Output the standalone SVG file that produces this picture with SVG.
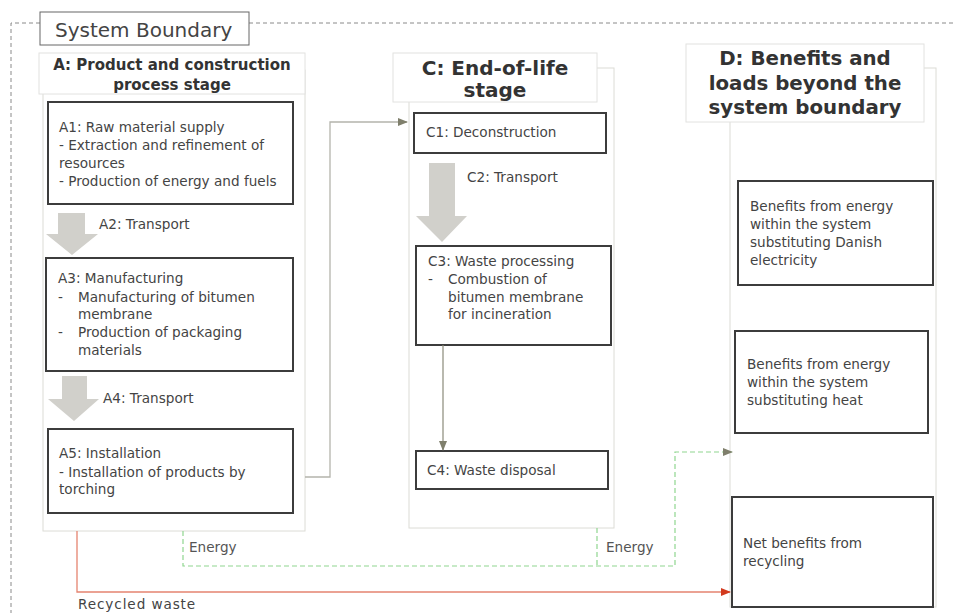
<svg xmlns="http://www.w3.org/2000/svg" width="953" height="613" viewBox="0 0 953 613">
<defs>
<marker id="ah" markerWidth="10" markerHeight="8" refX="9" refY="4" orient="auto" markerUnits="userSpaceOnUse">
<path d="M0,0 L10,4 L0,8 Z" fill="#7f7f6c"/>
</marker>
<marker id="ahr" markerWidth="10" markerHeight="8" refX="9" refY="4" orient="auto" markerUnits="userSpaceOnUse">
<path d="M0,0 L10,4 L0,8 Z" fill="#d23a1e"/>
</marker>
</defs>
<style>
text{font-family:"DejaVu Sans",Verdana,sans-serif;fill:#444}
.t{font-size:13.6px}
.s{font-size:13.6px}
.h{font-weight:bold;fill:#333;text-anchor:middle}
.box{fill:#fff;stroke:#3c3c3c;stroke-width:2}
.hdr{fill:#fff;stroke:#e2e2e0;stroke-width:1}
.col{fill:#fff;stroke:#dcdcd6;stroke-width:1}
.blk{fill:#d1d0cb}
.bnd{fill:none;stroke:#8a8a8a;stroke-width:1;stroke-dasharray:4,3}
.en{fill:none;stroke:#8fd68f;stroke-width:1.2;stroke-dasharray:5,3}
</style>
<rect width="953" height="613" fill="#fff"/>

<g id="boundary">
<path class="bnd" d="M953,23 H249 M40,23 H11 V613"/>
<rect x="40" y="12" width="209" height="33" fill="#fff" stroke="#666" stroke-width="1"/>
<text x="55" y="37" style="font-size:20px">System Boundary</text>
</g>

<g id="stageA">
<rect class="col" x="43" y="70" width="262" height="461"/>
<rect class="hdr" x="39" y="53" width="266" height="41"/>
<text class="h" x="172" y="70" style="font-size:15px">A: Product and construction</text>
<text class="h" x="172" y="90" style="font-size:15px">process stage</text>
</g>

<g id="stageC">
<rect class="col" x="409" y="68" width="205" height="460"/>
<rect class="hdr" x="393" y="53" width="204" height="49"/>
<text class="h" x="495" y="75" style="font-size:20px">C: End-of-life</text>
<text class="h" x="495" y="97" style="font-size:20px">stage</text>
</g>

<g id="stageD">
<rect class="col" x="730" y="68" width="206" height="539"/>
<rect class="hdr" x="686" y="44" width="238" height="78"/>
<text class="h" x="805" y="65" style="font-size:19.8px">D: Benefits and</text>
<text class="h" x="805" y="90" style="font-size:19.8px">loads beyond the</text>
<text class="h" x="805" y="114" style="font-size:19.8px">system boundary</text>
</g>

<g id="A1">
<rect class="box" x="48" y="102" width="245" height="102"/>
<text class="t" x="59" y="132">A1: Raw material supply</text>
<text class="t" x="59" y="150">- Extraction and refinement of</text>
<text class="t" x="59" y="168">resources</text>
<text class="t" x="59" y="186">- Production of energy and fuels</text>
</g>

<g id="A2">
<path class="blk" d="M58,213 H85 V234 H98 L72,255 L46,234 H58 Z"/>
<text class="t" x="99" y="229">A2: Transport</text>
</g>

<g id="A3">
<rect class="box" x="46" y="258" width="247" height="113"/>
<text class="t" x="58" y="283">A3: Manufacturing</text>
<text class="t" x="58" y="302">-</text>
<text class="t" x="78" y="302">Manufacturing of bitumen</text>
<text class="t" x="78" y="319">membrane</text>
<text class="t" x="58" y="337">-</text>
<text class="t" x="78" y="337">Production of packaging</text>
<text class="t" x="78" y="355">materials</text>
</g>

<g id="A4">
<path class="blk" d="M62,376 H87 V399 H99 L74,421 L48,399 H62 Z"/>
<text class="t" x="103" y="403">A4: Transport</text>
</g>

<g id="A5">
<rect class="box" x="48" y="429" width="245" height="84"/>
<text class="t" x="59" y="458">A5: Installation</text>
<text class="t" x="59" y="477">- Installation of products by</text>
<text class="t" x="59" y="494">torching</text>
</g>

<g id="C1">
<rect class="box" x="414" y="113" width="192" height="40"/>
<text class="t" x="426" y="137">C1: Deconstruction</text>
</g>

<g id="C2">
<path class="blk" d="M429,163 H455 V216 H467 L442,242 L416,216 H429 Z"/>
<text class="t" x="467" y="182">C2: Transport</text>
</g>

<g id="C3">
<rect class="box" x="416" y="246" width="195" height="99"/>
<text class="t" x="428" y="266">C3: Waste processing</text>
<text class="t" x="428" y="284">-</text>
<text class="t" x="448" y="284">Combustion of</text>
<text class="t" x="448" y="302">bitumen membrane</text>
<text class="t" x="448" y="319">for incineration</text>
</g>

<g id="C4">
<rect class="box" x="416" y="451" width="192" height="38"/>
<text class="t" x="427" y="475">C4: Waste disposal</text>
</g>

<g id="D1">
<rect class="box" x="738" y="181" width="195" height="104"/>
<text class="s" x="750" y="211">Benefits from energy</text>
<text class="s" x="750" y="229">within the system</text>
<text class="s" x="750" y="247">substituting Danish</text>
<text class="s" x="750" y="265">electricity</text>
</g>

<g id="D2">
<rect class="box" x="735" y="331" width="193" height="102"/>
<text class="s" x="747" y="369">Benefits from energy</text>
<text class="s" x="747" y="387">within the system</text>
<text class="s" x="747" y="405">substituting heat</text>
</g>

<g id="D3">
<rect class="box" x="732" y="497" width="201" height="110"/>
<text class="s" x="743" y="548">Net benefits from</text>
<text class="s" x="743" y="566">recycling</text>
</g>

<g id="connectors">
<path d="M305,477 H330 V122 H407" fill="none" stroke="#b4b4ac" stroke-width="1.3" marker-end="url(#ah)"/>
<path d="M443,345 V450" fill="none" stroke="#8a8a7a" stroke-width="1.2" marker-end="url(#ah)"/>
<path class="en" d="M183,531 V566 H675 V452 H732" marker-end="url(#ah)"/>
<path class="en" d="M597,528 V566"/>
<path d="M77,531 V592 H730" fill="none" stroke="#e58470" stroke-width="1.3" marker-end="url(#ahr)"/>
<text x="189" y="552" style="font-size:13.6px;fill:#555">Energy</text>
<text x="606" y="552" style="font-size:13.6px;fill:#555">Energy</text>
<text x="78" y="609" style="font-size:13.6px;letter-spacing:0.9px">Recycled waste</text>
</g>
</svg>
